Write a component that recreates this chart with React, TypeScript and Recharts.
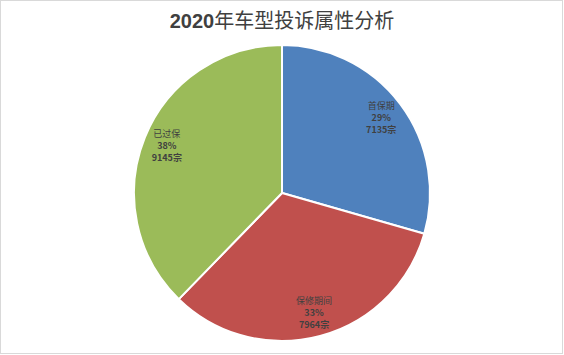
import React from "react";
import { PieChart, Pie, Cell } from "recharts";

const categories = ["首保期", "保修期间", "已过保"];
const values = [7135, 7964, 9145];
const colors = ["#4F81BD", "#C0504D", "#9BBB59"];
const title = "2020年车型投诉属性分析";

const data = categories.map((name, i) => ({ name, value: values[i] }));

const RAD = Math.PI / 180;

const renderLabel = (props: any) => {
  const { cx, cy, midAngle, outerRadius, percent, name, value } = props;
  const r = outerRadius * 0.84;
  const x = cx + r * Math.cos(-midAngle * RAD);
  const y = cy + r * Math.sin(-midAngle * RAD);
  const font = "'Noto Sans CJK SC', 'Liberation Sans', sans-serif";
  return (
    <g>
      <text x={x} y={y - 9} textAnchor="middle" fill="#404040" fontSize={9} fontFamily={font}>
        {name}
      </text>
      <text x={x} y={y + 3} textAnchor="middle" fill="#404040" fontSize={9} fontWeight="bold" fontFamily={font}>
        {Math.round(percent * 100)}%
      </text>
      <text x={x} y={y + 15} textAnchor="middle" fill="#404040" fontSize={9} fontWeight="bold" fontFamily={font}>
        {value}宗
      </text>
    </g>
  );
};

export default function App() {
  return (
    <div style={{ position: "relative", width: 564, height: 355 }}>
      <style>{`body{margin:0}`}</style>
      <div
        style={{
          position: "absolute",
          left: 0,
          top: 0,
          width: 563,
          height: 354,
          boxSizing: "border-box",
          border: "1px solid #d9d9d9",
        }}
      />
      <div
        style={{
          position: "absolute",
          left: 0,
          top: 7,
          width: 564,
          textAlign: "center",
          fontFamily: "'Liberation Sans', 'Noto Sans CJK SC', sans-serif",
          fontSize: 20,
          color: "#404040",
          lineHeight: "26px",
        }}
      >
        <span style={{ fontWeight: "bold" }}>2020</span>
        <span style={{ fontFamily: "'Noto Sans CJK SC', sans-serif" }}>{title.slice(4)}</span>
      </div>
      <div style={{ position: "absolute", left: 0, top: 0 }}>
        <PieChart width={564} height={355} margin={{ top: 0, right: 0, bottom: 0, left: 0 }}>
          <Pie
            data={data}
            dataKey="value"
            nameKey="name"
            cx={282}
            cy={193}
            outerRadius={148}
            startAngle={90}
            endAngle={-270}
            stroke="#ffffff"
            strokeWidth={2}
            label={renderLabel}
            labelLine={false}
            isAnimationActive={false}
          >
            {data.map((d, i) => (
              <Cell key={d.name} fill={colors[i]} />
            ))}
          </Pie>
        </PieChart>
      </div>
    </div>
  );
}
